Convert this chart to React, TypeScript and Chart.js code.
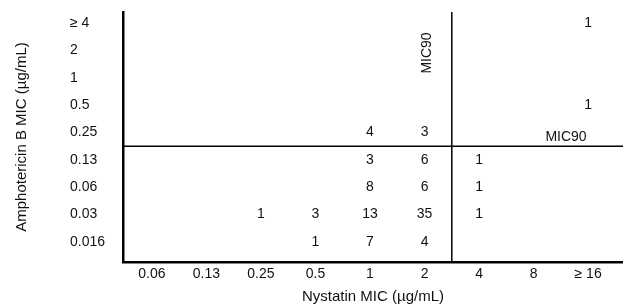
import { useEffect, useRef } from 'react';
import { Chart, registerables } from 'chart.js';

Chart.register(...registerables);

// Axis categories
const nystatinLabels = ['0.06', '0.13', '0.25', '0.5', '1', '2', '4', '8', '≥ 16'];
const amphoLabels = ['0.016', '0.03', '0.06', '0.13', '0.25', '0.5', '1', '2', '≥ 4'];

// Cell counts (Nystatin MIC x Amphotericin B MIC)
const cellNystatin = ['≥ 16', '≥ 16', '1', '2', '1', '2', '4', '1', '2', '4', '0.25', '0.5', '1', '2', '4', '0.5', '1', '2'];
const cellAmpho = ['≥ 4', '0.5', '0.25', '0.25', '0.13', '0.13', '0.13', '0.06', '0.06', '0.06', '0.03', '0.03', '0.03', '0.03', '0.03', '0.016', '0.016', '0.016'];
const cellCounts = [1, 1, 4, 3, 3, 6, 1, 8, 6, 1, 1, 3, 13, 35, 1, 1, 7, 4];

// MIC90 boundaries (between these categories)
const nystatinMIC90Between = ['2', '4'];
const amphoMIC90Between = ['0.13', '0.25'];

const FAMILY = "'Liberation Sans', Arial, Helvetica, sans-serif";

export default function App() {
  const ref = useRef<HTMLCanvasElement>(null);

  useEffect(() => {
    document.body.style.margin = '0';
    const canvas = ref.current;
    if (!canvas) return;
    const font = { family: FAMILY, size: 14 };
    const titleFont = { family: FAMILY, size: 15 };
    const xi = (l: string) => nystatinLabels.indexOf(l);
    const yi = (l: string) => amphoLabels.indexOf(l);
    const points = cellCounts.map((c, k) => ({ x: xi(cellNystatin[k]), y: yi(cellAmpho[k]), count: c }));
    const mic90X = (xi(nystatinMIC90Between[0]) + xi(nystatinMIC90Between[1])) / 2;
    const mic90Y = (yi(amphoMIC90Between[0]) + yi(amphoMIC90Between[1])) / 2;

    const cellPlugin = {
      id: 'cellText',
      afterDatasetsDraw(chart: any) {
        const ctx = chart.ctx;
        const { left, right, top, bottom } = chart.chartArea;
        const xs = chart.scales.x;
        const ys = chart.scales.y;
        ctx.save();
        ctx.font = `14px ${FAMILY}`;
        ctx.fillStyle = '#111';
        ctx.textAlign = 'center';
        ctx.textBaseline = 'middle';
        chart.getDatasetMeta(0).data.forEach((el: any, k: number) => {
          ctx.fillText(String(points[k].count), el.x, el.y);
        });
        const vx = xs.getPixelForValue(mic90X);
        const hy = ys.getPixelForValue(mic90Y);
        ctx.strokeStyle = '#000';
        ctx.lineWidth = 1.5;
        ctx.beginPath();
        ctx.moveTo(vx, top);
        ctx.lineTo(vx, bottom);
        ctx.moveTo(left, hy);
        ctx.lineTo(right, hy);
        ctx.stroke();
        ctx.textBaseline = 'bottom';
        ctx.fillText('MIC90', right - 57, hy - 2);
        ctx.translate(vx - 25, top + 41);
        ctx.rotate(-Math.PI / 2);
        ctx.textBaseline = 'middle';
        ctx.fillText('MIC90', 0, 0);
        ctx.restore();
      },
    };

    const chart = new Chart(canvas, {
      type: 'scatter',
      data: {
        datasets: [
          {
            data: points.map((p) => ({ x: p.x, y: p.y })),
            pointRadius: 0,
            pointHoverRadius: 0,
          },
        ],
      },
      options: {
        responsive: false,
        animation: false,
        layout: { padding: { top: 12, left: 0, right: 0, bottom: 0 } },
        plugins: { legend: { display: false }, tooltip: { enabled: false } },
        scales: {
          x: {
            type: 'linear',
            position: 'bottom',
            min: -0.53,
            max: 8.64,
            grid: { display: false, drawTicks: false },
            border: { display: true, color: '#000', width: 2.5 },
            ticks: {
              font,
              color: '#111',
              padding: 4,
              autoSkip: false,
              maxRotation: 0,
              callback: (v: any) => nystatinLabels[v] ?? '',
            },
            afterBuildTicks: (s: any) => {
              s.ticks = nystatinLabels.map((_, i) => ({ value: i }));
            },
            afterFit: (s: any) => {
              s.height = 46;
            },
            title: {
              display: true,
              text: 'Nystatin MIC (µg/mL)',
              font: titleFont,
              color: '#111',
              padding: { top: 0, bottom: 2 },
            },
          },
          y: {
            type: 'linear',
            position: 'left',
            min: -0.73,
            max: 8.4,
            grid: { display: false, drawTicks: false },
            border: { display: true, color: '#000', width: 2.5 },
            ticks: {
              font,
              color: '#111',
              mirror: true,
              padding: -53,
              crossAlign: 'near',
              autoSkip: false,
              callback: (v: any) => amphoLabels[v] ?? '',
            },
            afterBuildTicks: (s: any) => {
              s.ticks = amphoLabels.map((_, i) => ({ value: i }));
            },
            afterFit: (s: any) => {
              s.width = 123;
            },
            title: {
              display: true,
              text: 'Amphotericin B MIC (µg/mL)',
              font: titleFont,
              color: '#111',
              padding: { top: 13, bottom: 0 },
            },
          },
        },
      },
      plugins: [cellPlugin],
    } as any);

    return () => chart.destroy();
  }, []);

  return (
    <div style={{ position: 'absolute', left: 0, top: 0, width: 623, height: 308 }}>
      <canvas ref={ref} width={623} height={308} style={{ display: 'block' }} />
    </div>
  );
}
